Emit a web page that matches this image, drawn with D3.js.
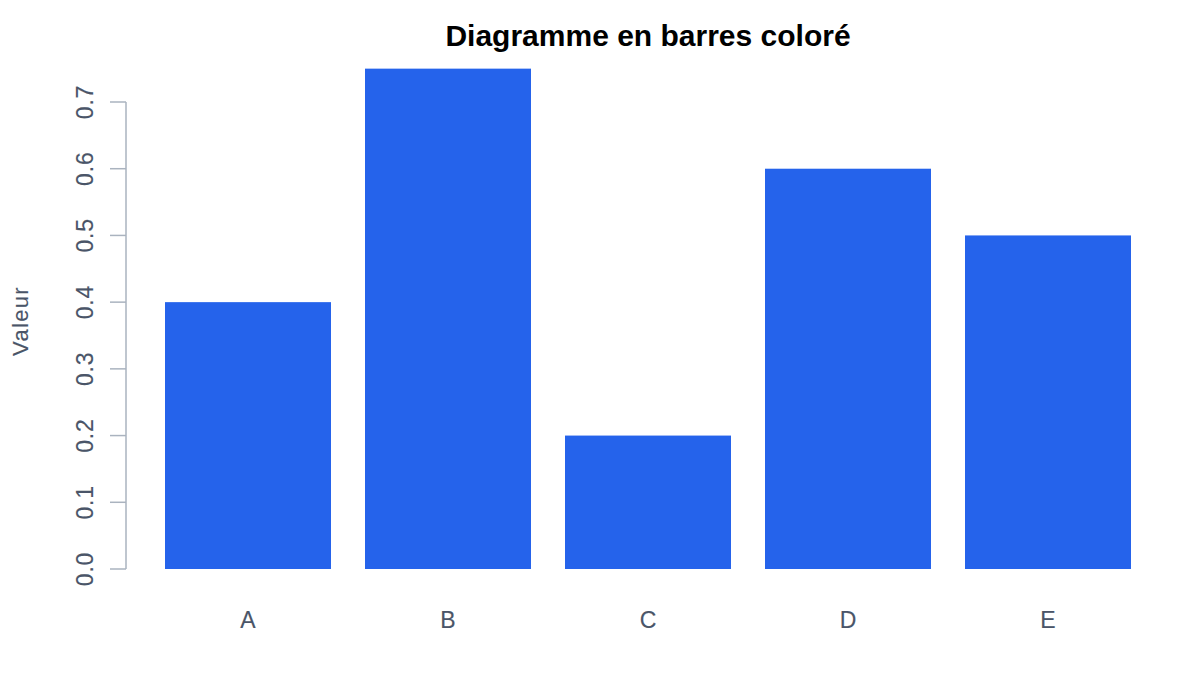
<!DOCTYPE html>
<html><head><meta charset="utf-8">
<script src="https://cdn.jsdelivr.net/npm/d3@7"></script>
<style>body{margin:0;background:#fff}svg{display:block}text{font-family:"Liberation Sans",Arial,Helvetica,sans-serif}</style>
</head><body><div id="chart"></div>
<script>
const categories = ["A","B","C","D","E"];
const values = [0.4, 0.75, 0.2, 0.6, 0.5];
const yTicks = [0, 0.1, 0.2, 0.3, 0.4, 0.5, 0.6, 0.7];
const titleText = "Diagramme en barres coloré";
const yLabel = "Valeur";

const W = 1200, H = 700;
const svg = d3.select("#chart").append("svg").attr("width", W).attr("height", H);

const x = d3.scaleBand().domain(categories).range([148, 1148]).paddingInner(0.17).paddingOuter(0.085);
const y = d3.scaleLinear().domain([0, 0.7]).range([569, 102]);

svg.selectAll("rect.bar").data(values).join("rect")
  .attr("class","bar")
  .attr("x", (d,i) => x(categories[i]))
  .attr("width", x.bandwidth())
  .attr("y", d => y(d))
  .attr("height", d => y(0) - y(d))
  .attr("fill", "#2563eb");

const textColor = "#4a5568";
// y axis
const axisColor = "#aab3bf";
svg.append("line").attr("x1",126).attr("x2",126).attr("y1",y(0)).attr("y2",y(0.7))
  .attr("stroke",axisColor).attr("stroke-width",1.5);
const tg = svg.selectAll("g.tick").data(yTicks).join("g").attr("class","tick");
tg.append("line").attr("x1",110).attr("x2",126).attr("y1",d=>y(d)).attr("y2",d=>y(d))
  .attr("stroke",axisColor).attr("stroke-width",1.5);
tg.append("text")
  .attr("transform", d => `translate(93,${y(d)}) rotate(-90)`)
  .attr("text-anchor","middle")
  .attr("fill",textColor).attr("stroke",textColor).attr("stroke-width",0.15)
  .attr("font-size",23).attr("letter-spacing",0.8)
  .text(d => d.toFixed(1));

// x labels
svg.selectAll("text.xl").data(categories).join("text").attr("class","xl")
  .attr("x", d => x(d) + x.bandwidth()/2).attr("y", 628)
  .attr("text-anchor","middle").attr("fill",textColor).attr("stroke",textColor).attr("stroke-width",0.15)
  .attr("font-size",23)
  .text(d => d);

svg.append("text").attr("transform","translate(28,321) rotate(-90)")
  .attr("text-anchor","middle").attr("fill",textColor).attr("stroke",textColor).attr("stroke-width",0.15)
  .attr("font-size",22).attr("letter-spacing",1.3)
  .text(yLabel);

svg.append("text").attr("x",648).attr("y",46).attr("text-anchor","middle")
  .attr("font-weight","bold").attr("font-size",30).attr("fill","#000").text(titleText);
</script></body></html>
